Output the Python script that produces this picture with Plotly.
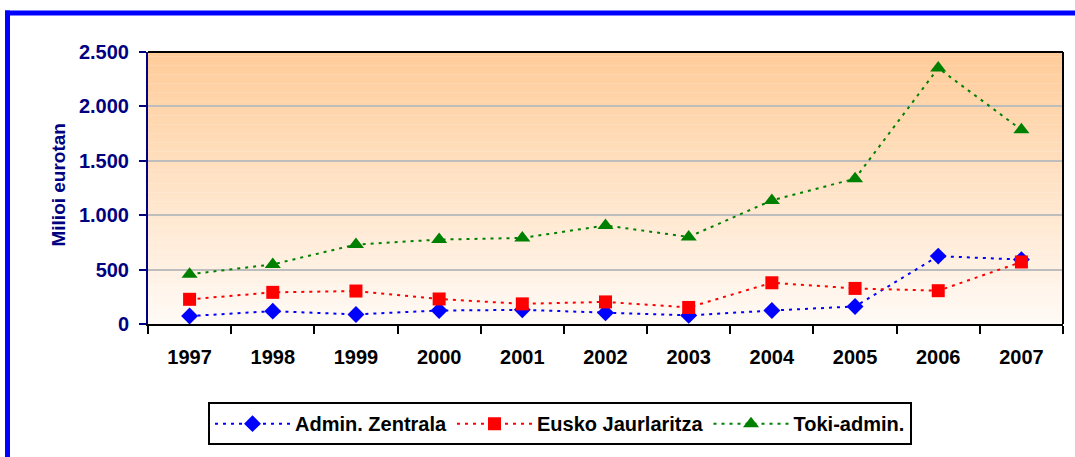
import plotly.graph_objects as go

years = ["1997", "1998", "1999", "2000", "2001", "2002", "2003", "2004", "2005", "2006", "2007"]
admin_zentrala = [73, 118, 88, 124, 130, 103, 79, 124, 161, 624, 592]
eusko_jaurlaritza = [227, 291, 303, 230, 185, 203, 152, 379, 327, 306, 570]
toki_admin = [457, 548, 730, 776, 791, 906, 800, 1136, 1336, 2352, 1785]
y_ticks = [0, 500, 1000, 1500, 2000, 2500]

W, H = 1075, 457
L, R, T, B = 148, 12, 52, 130
pw, ph = W - L - R, H - T - B

def px(x):
    return (x - L) / pw

def py(y):
    return (H - B - y) / ph

FONT = "Liberation Sans, Arial, sans-serif"
NAVY = "#000080"

fig = go.Figure()
series = [
    ("Admin. Zentrala", admin_zentrala, "#0000FF", "diamond", 13),
    ("Eusko Jaurlaritza", eusko_jaurlaritza, "#FF0000", "square", 13),
    ("Toki-admin.", toki_admin, "#008000", "triangle-up", 14),
]
for name, vals, col, sym, sz in series:
    fig.add_trace(go.Scatter(
        x=years, y=vals, name=name, mode="lines+markers",
        line=dict(color=col, width=2, dash="3px,5px"),
        marker=dict(color=col, symbol=sym, size=sz, line=dict(width=0)),
    ))

shapes = []
# gradient background bands
n = 60
top = (255, 204, 153)
bot = (255, 250, 245)
for i in range(n):
    t = i / (n - 1)
    c = tuple(round(top[k] + (bot[k] - top[k]) * t) for k in range(3))
    shapes.append(dict(type="rect", xref="paper", yref="paper",
                       x0=0, x1=1, y0=1 - (i + 1) / n, y1=1 - i / n + 0.001,
                       fillcolor="rgb(%d,%d,%d)" % c, line=dict(width=0), layer="below"))
# plot-area top and right border
shapes.append(dict(type="line", xref="paper", yref="paper", x0=0, x1=1, y0=1, y1=1,
                   line=dict(color="black", width=2)))
shapes.append(dict(type="line", xref="paper", yref="paper", x0=1, x1=1, y0=0, y1=1,
                   line=dict(color="black", width=2)))
# blue frame
shapes.append(dict(type="line", xref="paper", yref="paper", x0=px(5), x1=px(1080),
                   y0=py(12.5), y1=py(12.5), line=dict(color="#0000FF", width=5)))
shapes.append(dict(type="line", xref="paper", yref="paper", x0=px(7.5), x1=px(7.5),
                   y0=py(10), y1=py(462), line=dict(color="#0000FF", width=5)))

fig.update_layout(
    width=W, height=H, autosize=False,
    margin=dict(l=L, r=R, t=T, b=B, pad=0),
    paper_bgcolor="white", plot_bgcolor="rgba(0,0,0,0)",
    separators=",.",
    font=dict(family=FONT, size=20, color="black"),
    shapes=shapes,
    showlegend=True,
    legend=dict(orientation="h", x=px(560), xanchor="center", y=py(406), yanchor="top",
                bordercolor="black", borderwidth=2, bgcolor="white",
                font=dict(family=FONT, size=20, color="black", weight="bold"),
                itemwidth=75, entrywidth=0),
    annotations=[dict(text="Milioi eurotan", xref="paper", yref="paper",
                      x=px(59), y=py(186), xanchor="center", yanchor="middle",
                      textangle=-90, showarrow=False,
                      font=dict(family=FONT, size=19, color=NAVY, weight="bold"))],
)
fig.update_xaxes(
    type="category", tickson="boundaries", ticks="outside", ticklen=8, tickwidth=2,
    tickcolor="black", showline=True, linecolor="black", linewidth=2,
    showgrid=False, zeroline=False, ticklabelstandoff=14,
    tickfont=dict(family=FONT, size=20, color="black", weight="bold"),
    range=[-0.5, 10.5],
)
fig.update_yaxes(
    range=[0, 2500], tickvals=y_ticks, tickformat=",d", ticks="outside", ticklen=7,
    tickwidth=2, tickcolor=NAVY, showline=True, linecolor=NAVY, linewidth=2,
    showgrid=True, gridcolor="#BDBDBD", gridwidth=2, zeroline=False,
    ticklabelstandoff=6,
    tickfont=dict(family=FONT, size=20, color=NAVY, weight="bold"),
)
fig.write_html("out.html", post_script="document.body.style.margin='0';",
               config={"displayModeBar": False})
